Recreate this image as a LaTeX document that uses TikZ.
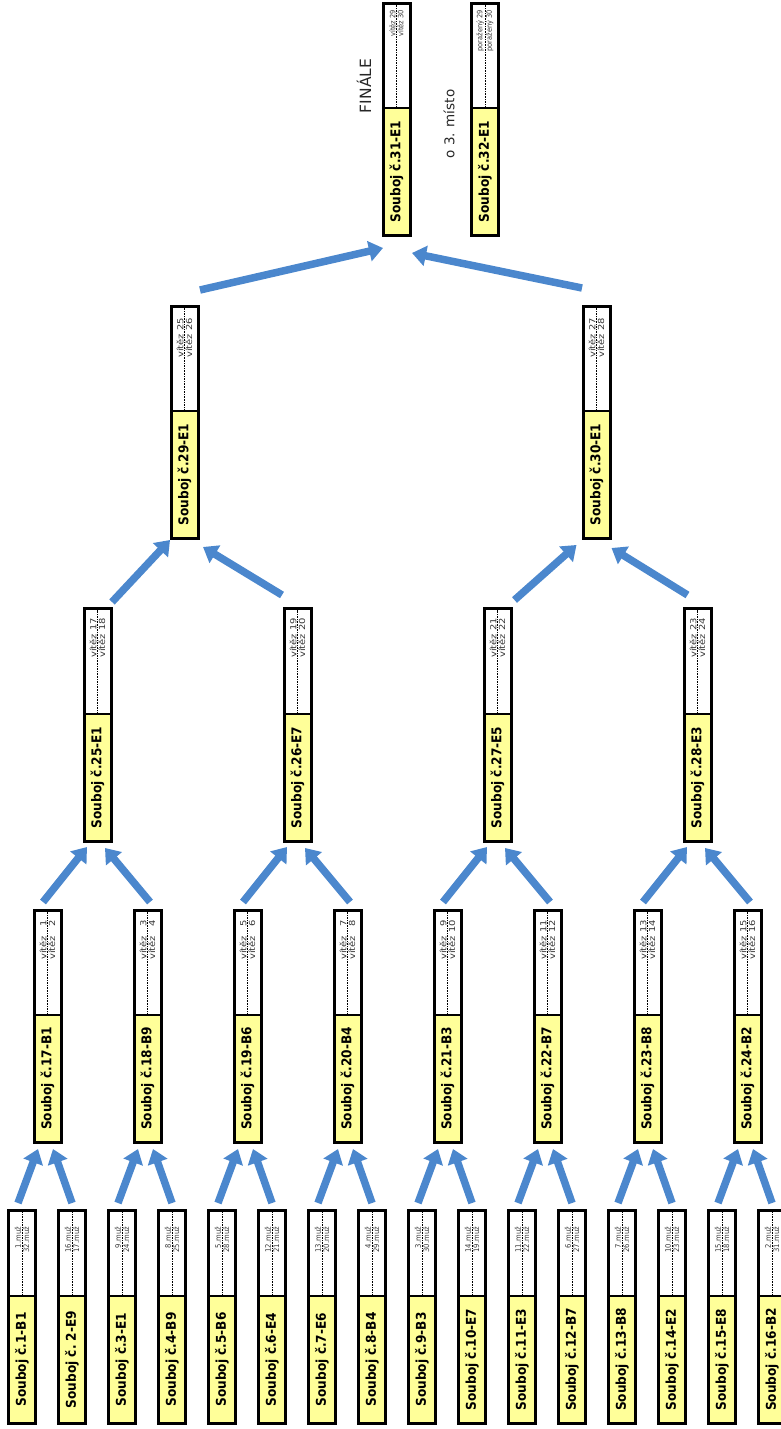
\documentclass[tikz,border=0pt]{standalone}
\usepackage{fontspec}
\setmainfont{DejaVu Sans}[FakeStretch=0.9]
\newfontfamily\widefont{DejaVu Sans}[FakeStretch=1.2]
\newfontfamily\normfont{DejaVu Sans}
\usetikzlibrary{arrows.meta}
\definecolor{yel}{RGB}{255,255,153}
\definecolor{arrblue}{RGB}{75,135,205}
\definecolor{txtgrey}{RGB}{55,55,55}
\newcommand\mufont{\fontsize{7.6}{8}\selectfont}
\newcommand\vfont{\widefont\fontsize{8.3}{9}\selectfont}
\newcommand\ffont{\fontsize{7.4}{8}\selectfont}
\tikzset{
  zbox/.style={draw, line width=3pt, fill=white, minimum width=27pt, inner sep=0pt, outer sep=0pt},
  zlabel/.style={rotate=90, font=\bfseries\fontsize{13.5}{14}\selectfont, inner sep=0pt},
  toptext/.style={rotate=90, anchor=south east, inner sep=0.8pt, text=txtgrey},
  bottext/.style={rotate=90, anchor=north east, inner sep=0.8pt, text=txtgrey},
  arr/.style={draw=arrblue, line width=7.5pt, -{Triangle[width=20pt,length=14pt]}},
  headline/.style={rotate=90, inner sep=0pt, text=black!85},
}
\newcommand\zapas[9]{%
  \node[zbox, minimum height={(#4-#3)*1pt}] (#1) at (#2,{(#3+#4)/2}) {};
  \fill[yel] ([xshift=1.5pt,yshift=1.5pt]#1.south west) rectangle ([xshift=-1.5pt,yshift=127pt]#1.south east);
  \draw[line width=1.8pt] ([yshift=127pt]#1.south west) -- ([yshift=127pt]#1.south east);
  \draw[line width=0.8pt, dash pattern=on 1.6pt off 1pt] ([yshift=127pt]#1.south) -- ([yshift=-1.5pt]#1.north);
  \node[zlabel] (#1l) at ([yshift=63.5pt]#1.south) {#5};
  \node[toptext, font=#9] (#1a) at ([yshift=-#8pt]#1.north) {#6};
  \node[bottext, font=#9] (#1b) at ([yshift=-#8pt]#1.north) {#7};
}
\begin{document}
\begin{tikzpicture}[x=1pt,y=-1pt]
\useasboundingbox (0,0) rectangle (781,1429);
\clip (0,0) rectangle (781,1429);
% round 1
\zapas{b1}{22}{1210}{1423}{Souboj č.1-B1}{1.muž}{32.muž}{16}{\mufont}
\zapas{b2}{72}{1210}{1423}{Souboj č.\ 2-E9}{16.muž}{17.muž}{16}{\mufont}
\zapas{b3}{122}{1210}{1423}{Souboj č.3-E1}{9.muž}{24.muž}{16}{\mufont}
\zapas{b4}{172}{1210}{1423}{Souboj č.4-B9}{8.muž}{25.muž}{16}{\mufont}
\zapas{b5}{222}{1210}{1423}{Souboj č.5-B6}{5.muž}{28.muž}{16}{\mufont}
\zapas{b6}{272}{1210}{1423}{Souboj č.6-E4}{12.muž}{21.muž}{16}{\mufont}
\zapas{b7}{322}{1210}{1423}{Souboj č.7-E6}{13.muž}{20.muž}{16}{\mufont}
\zapas{b8}{372}{1210}{1423}{Souboj č.8-B4}{4.muž}{29.muž}{16}{\mufont}
\zapas{b9}{422}{1210}{1423}{Souboj č.9-B3}{3.muž}{30.muž}{16}{\mufont}
\zapas{b10}{472}{1210}{1423}{Souboj č.10-E7}{14.muž}{19.muž}{16}{\mufont}
\zapas{b11}{522}{1210}{1423}{Souboj č.11-E3}{11.muž}{22.muž}{16}{\mufont}
\zapas{b12}{572}{1210}{1423}{Souboj č.12-B7}{6.muž}{27.muž}{16}{\mufont}
\zapas{b13}{622}{1210}{1423}{Souboj č.13-B8}{7.muž}{26.muž}{16}{\mufont}
\zapas{b14}{672}{1210}{1423}{Souboj č.14-E2}{10.muž}{23.muž}{16}{\mufont}
\zapas{b15}{722}{1210}{1423}{Souboj č.15-E8}{15.muž}{18.muž}{16}{\mufont}
\zapas{b16}{772}{1210}{1423}{Souboj č.16-B2}{2.muž}{31.muž}{16}{\mufont}
% round 2
\zapas{b17}{47.5}{910}{1142}{Souboj č.17-B1}{vítěz \phantom{0}1}{vítěz \phantom{0}2}{9}{\vfont}
\zapas{b18}{147.5}{910}{1142}{Souboj č.18-B9}{vítěz \phantom{0}3}{vítěz \phantom{0}4}{9}{\vfont}
\zapas{b19}{247.5}{910}{1142}{Souboj č.19-B6}{vítěz \phantom{0}5}{vítěz \phantom{0}6}{9}{\vfont}
\zapas{b20}{347.5}{910}{1142}{Souboj č.20-B4}{vítěz \phantom{0}7}{vítěz \phantom{0}8}{9}{\vfont}
\zapas{b21}{447.5}{910}{1142}{Souboj č.21-B3}{vítěz \phantom{0}9}{vítěz 10}{9}{\vfont}
\zapas{b22}{547.5}{910}{1142}{Souboj č.22-B7}{vítěz 11}{vítěz 12}{9}{\vfont}
\zapas{b23}{647.5}{910}{1142}{Souboj č.23-B8}{vítěz 13}{vítěz 14}{9}{\vfont}
\zapas{b24}{747.5}{910}{1142}{Souboj č.24-B2}{vítěz 15}{vítěz 16}{9}{\vfont}
% round 3
\zapas{b25}{97.5}{608}{841}{Souboj č.25-E1}{vítěz 17}{vítěz 18}{9}{\vfont}
\zapas{b26}{297.5}{608}{841}{Souboj č.26-E7}{vítěz 19}{vítěz 20}{9}{\vfont}
\zapas{b27}{497.5}{608}{841}{Souboj č.27-E5}{vítěz 21}{vítěz 22}{9}{\vfont}
\zapas{b28}{697.5}{608}{841}{Souboj č.28-E3}{vítěz 23}{vítěz 24}{9}{\vfont}
% round 4
\zapas{b29}{184.5}{306}{538}{Souboj č.29-E1}{vítěz 25}{vítěz 26}{11}{\vfont}
\zapas{b30}{596.5}{306}{538}{Souboj č.30-E1}{vítěz 27}{vítěz 28}{11}{\vfont}
% final
\zapas{b31}{396.5}{4}{235}{Souboj č.31-E1}{vítěz 29}{vítěz 30}{5}{\ffont}
\zapas{b32}{485}{4}{235}{Souboj č.32-E1}{poražený 29}{poražený 30}{5}{\ffont}
\node[headline, font=\normfont\fontsize{15.5}{16}\selectfont] (fin) at (364,86) {FINÁLE};
\node[headline, font=\normfont\fontsize{13.5}{14}\selectfont] (tri) at (449,124) {o 3. místo};
% arrows round 1 -> 2
\foreach \k in {0,...,7}{
  \pgfmathtruncatemacro\a{2*\k+1}
  \pgfmathtruncatemacro\b{2*\k+2}
  \pgfmathtruncatemacro\c{17+\k}
  \draw[arr] ([xshift=-4pt,yshift=7pt]b\a.north) -- ([xshift=-9.5pt,yshift=-7pt]b\c.south);
  \draw[arr] ([xshift=0pt,yshift=7pt]b\b.north) -- ([xshift=5.5pt,yshift=-7pt]b\c.south);
}
% arrows round 2 -> 3
\foreach \k in {0,...,3}{
  \pgfmathtruncatemacro\a{17+2*\k}
  \pgfmathtruncatemacro\b{18+2*\k}
  \pgfmathtruncatemacro\c{25+\k}
  \draw[arr] ([xshift=-4.5pt,yshift=8pt]b\a.north) -- ([xshift=-10.5pt,yshift=-6pt]b\c.south);
  \draw[arr] ([xshift=2.5pt,yshift=8pt]b\b.north) -- ([xshift=7.5pt,yshift=-7pt]b\c.south);
}
% arrows round 3 -> 4
\draw[arr] ([xshift=14.5pt,yshift=6pt]b25.north) -- ([xshift=-14.5pt,yshift=-2pt]b29.south);
\draw[arr] ([xshift=-15.5pt,yshift=13pt]b26.north) -- ([xshift=18.5pt,yshift=-9pt]b29.south);
\draw[arr] ([xshift=17pt,yshift=8pt]b27.north) -- ([xshift=-20pt,yshift=-7pt]b30.south);
\draw[arr] ([xshift=-10pt,yshift=13pt]b28.north) -- ([xshift=15pt,yshift=-10pt]b30.south);
% arrows to final
\draw[arr] ([xshift=15.5pt,yshift=16pt]b29.north) -- ([xshift=-13.5pt,yshift=-13pt]b31.south);
\draw[arr] ([xshift=-14.5pt,yshift=18pt]b30.north) -- ([xshift=15.5pt,yshift=-18pt]b31.south);
\end{tikzpicture}
\end{document}
